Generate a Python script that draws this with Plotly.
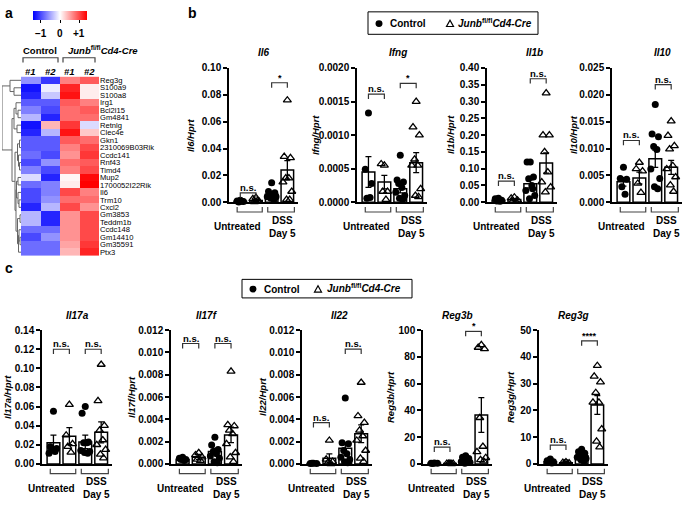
import plotly.graph_objects as go

W, H = 685, 506
FONT = "Arial, Liberation Sans, Helvetica, sans-serif"

# ---------------- heatmap data (panel a) ----------------
genes = ["Reg3g", "S100a9", "S100a8", "Irg1", "Bcl2l15", "Gm4841", "Retnlg", "Clec4e",
         "Gkn1", "2310069B03Rik", "Ccdc141", "Rnf43", "Timd4", "Mup2", "1700052I22Rik",
         "Il6", "Trm10", "Cxcl2", "Gm3853", "Teddm1b", "Ccdc148", "Gm14410", "Gm35591", "Ptx3"]
ctrl1 = [-0.6, -1.3, -1.2, -0.9, -0.7, -0.4, -1.3, -1.2, -0.9, -0.9, -0.8, -1.0, -0.7, -0.2,
         -0.8, -1.0, -1.0, -1.2, -0.4, -0.4, -0.8, -1.0, -0.8, -0.8]
ctrl2 = [-1.1, -0.1, -0.3, -0.9, -1.0, -1.2, 0.4, -0.4, -0.9, -0.9, -1.0, -0.6, -1.0, -1.2,
         -0.7, -0.7, -0.6, -0.4, -1.2, -1.2, -0.8, -0.6, -0.8, -0.8]
junb1 = [0.7, 1.2, 1.3, 0.9, 0.8, 0.8, 1.1, 1.3, 0.9, 0.7, 0.6, 0.8, 0.7, 0.05,
         0.1, 1.0, 0.8, 1.0, 0.6, 0.6, 0.6, 0.6, 0.5, 0.4]
junb2 = [0.9, 0.1, 0.1, 0.7, 0.9, 0.8, -0.2, 0.3, 0.8, 1.0, 1.1, 0.9, 1.0, 1.35,
         1.4, 0.7, 0.8, 0.6, 1.0, 1.0, 1.0, 1.0, 1.1, 1.2]
col_labels = ["#1", "#2", "#1", "#2"]
cbar_ticks = [-1, 0, 1]
cbar_labels = ["\u22121", "0", "+1"]
# dendrogram merges: (child a, child b, merge height); new cluster ids start at 24
linkage = [
    (1, 2, 7), (0, 24, 11), (4, 5, 3), (3, 26, 5), (6, 7, 4), (27, 28, 7),
    (8, 9, 1.5), (11, 12, 1.5), (10, 31, 2.5), (30, 32, 3.5), (13, 14, 3),
    (16, 17, 2), (15, 35, 3), (34, 36, 4.5), (18, 19, 1), (21, 22, 1),
    (20, 39, 2), (40, 23, 2.5), (38, 41, 3.5), (37, 42, 5), (33, 43, 6),
    (29, 44, 9), (25, 45, 19),
]

# ---------------- bar chart data (panels b, c) ----------------
il6_means = [0.0008, 0.0012, 0.006, 0.024]
il6_sems = [0.0003, 0.0006, 0.0013, 0.007]
il6_u_ctrl = [0.0015, 0.0010, 0.0005, 0.0002, 0.0008]
il6_u_junb = [0.0035, 0.0025, 0.0005, 0.0002, 0.0010]
il6_dss_ctrl = [0.0145, 0.008, 0.007, 0.006, 0.005, 0.004, 0.004, 0.003, 0.002]
il6_dss_junb = [0.076, 0.034, 0.033, 0.018, 0.018, 0.015, 0.008, 0.002, 0.002]
il6_sig = ["n.s.", "*"]
il6_sig_y = [0.007, 0.089]

ifng_means = [0.00045, 0.0003, 0.0002, 0.00059]
ifng_sems = [0.00023, 0.0001, 0.00006, 0.00015]
ifng_u_ctrl = [0.00133, 0.00049, 0.00028, 0.00006, 0.00007]
ifng_u_junb = [0.00055, 0.00057, 0.00016, 0.00016, 0.00004]
ifng_dss_ctrl = [0.0007, 0.00033, 0.0003, 0.00028, 0.00022, 0.00015, 0.0001, 0.00006, 0.00004]
ifng_dss_junb = [0.0015, 0.00112, 0.001, 0.00064, 0.00055, 0.00055, 0.0002, 0.0001, 0.00008]
ifng_sig = ["n.s.", "*"]
ifng_sig_y = [0.00161, 0.00177]

il1b_means = [0.006, 0.008, 0.055, 0.117]
il1b_sems = [0.002, 0.003, 0.012, 0.03]
il1b_u_ctrl = [0.012, 0.010, 0.006, 0.004, 0.003]
il1b_u_junb = [0.015, 0.012, 0.006, 0.003, 0.002]
il1b_dss_ctrl = [0.12, 0.12, 0.075, 0.07, 0.05, 0.035, 0.02, 0.01, 0.04]
il1b_dss_junb = [0.325, 0.20, 0.20, 0.15, 0.09, 0.06, 0.045, 0.03]
il1b_sig = ["n.s.", "n.s."]
il1b_sig_y = [0.063, 0.368]

il10_means = [0.0038, 0.0045, 0.0081, 0.0065]
il10_sems = [0.0008, 0.0011, 0.0016, 0.0013]
il10_u_ctrl = [0.0065, 0.0044, 0.0043, 0.0029, 0.0015]
il10_u_junb = [0.0074, 0.0062, 0.0058, 0.0035, 0.0018]
il10_dss_ctrl = [0.0182, 0.0127, 0.0122, 0.0104, 0.0098, 0.0062, 0.0044, 0.0029, 0.0025]
il10_dss_junb = [0.0151, 0.0124, 0.0105, 0.0099, 0.0068, 0.0062, 0.0047, 0.0032, 0.002]
il10_sig = ["n.s.", "n.s."]
il10_sig_y = [0.0115, 0.0219]

il17a_means = [0.022, 0.029, 0.023, 0.033]
il17a_sems = [0.008, 0.009, 0.007, 0.011]
il17a_u_ctrl = [0.055, 0.018, 0.016, 0.015, 0.013, 0.011]
il17a_u_junb = [0.062, 0.030, 0.021, 0.018, 0.012]
il17a_dss_ctrl = [0.060, 0.053, 0.023, 0.022, 0.022, 0.014, 0.013, 0.012, 0.011]
il17a_dss_junb = [0.104, 0.066, 0.040, 0.035, 0.025, 0.020, 0.015, 0.010, 0.006]
il17a_sig = ["n.s.", "n.s."]
il17a_sig_y = [0.12, 0.12]

il17f_means = [0.0004, 0.0006, 0.0011, 0.0026]
il17f_sems = [0.0001, 0.0002, 0.0003, 0.0007]
il17f_u_ctrl = [0.0006, 0.0005, 0.0004, 0.0004, 0.0003]
il17f_u_junb = [0.0010, 0.0008, 0.0006, 0.0004, 0.0003]
il17f_dss_ctrl = [0.0024, 0.0017, 0.0013, 0.0011, 0.0009, 0.0007, 0.0005, 0.0002, 0.0001]
il17f_dss_junb = [0.0083, 0.0035, 0.0034, 0.0030, 0.0027, 0.0018, 0.0010, 0.0006, 0.0002]
il17f_sig = ["n.s.", "n.s."]
il17f_sig_y = [0.0108, 0.0108]

il22_means = [0.00003, 0.0005, 0.0014, 0.0027]
il22_sems = [0.00001, 0.0004, 0.0005, 0.0008]
il22_u_ctrl = [0.00005, 0.00004, 0.00003, 0.00005]
il22_u_junb = [0.0021, 0.0004, 0.0002, 0.0001, 0.0000]
il22_dss_ctrl = [0.0059, 0.0019, 0.0018, 0.0012, 0.0009, 0.0006, 0.0004, 0.0002, 0.0001]
il22_dss_junb = [0.0073, 0.0043, 0.0037, 0.0030, 0.0025, 0.0021, 0.0012, 0.0005, 0.0002]
il22_sig = ["n.s.", "n.s."]
il22_sig_y = [0.0037, 0.0103]

reg3b_means = [0.4, 0.2, 2.5, 36.5]
reg3b_sems = [0.1, 0.05, 0.6, 13]
reg3b_u_ctrl = [0.6, 0.5, 0.4, 0.3]
reg3b_u_junb = [0.4, 0.3, 0.2, 0.2, 0.1]
reg3b_dss_ctrl = [6.0, 5.0, 4.0, 3.0, 2.0, 1.5, 1.0, 0.5]
reg3b_dss_junb = [89, 87, 86, 34.5, 13, 9, 4.6, 3, 2]
reg3b_sig = ["n.s.", "*"]
reg3b_sig_y = [12.5, 99]

reg3g_means = [0.8, 0.4, 3.0, 22.0]
reg3g_sems = [0.3, 0.1, 0.5, 3.5]
reg3g_u_ctrl = [1.8, 1.2, 0.8, 0.5, 0.3]
reg3g_u_junb = [0.7, 0.5, 0.3, 0.2, 0.1]
reg3g_dss_ctrl = [5.5, 4.5, 4.0, 3.5, 3.0, 2.5, 2.0, 1.5, 1.0]
reg3g_dss_junb = [36.7, 32.7, 30.6, 26.6, 23, 23, 13, 8.4, 6.3]
reg3g_sig = ["n.s.", "****"]
reg3g_sig_y = [7, 46]


def PX(x):
    return x / W


def PY(y):
    return 1 - y / H


panels = [
    dict(name="Il6", means=il6_means, sems=il6_sems,
         pts=[il6_u_ctrl, il6_u_junb, il6_dss_ctrl, il6_dss_junb], sig=il6_sig, sig_y=il6_sig_y,
         ymax=0.10, dtick=0.02, dec=2, box=(229, 298, 63.5, 201), tx=264, ty=48, lx=190),
    dict(name="Ifng", means=ifng_means, sems=ifng_sems,
         pts=[ifng_u_ctrl, ifng_u_junb, ifng_dss_ctrl, ifng_dss_junb], sig=ifng_sig, sig_y=ifng_sig_y,
         ymax=0.0020, dtick=0.0005, dec=4, box=(357, 427, 63.5, 201), tx=398, ty=48, lx=315),
    dict(name="Il1b", means=il1b_means, sems=il1b_sems,
         pts=[il1b_u_ctrl, il1b_u_junb, il1b_dss_ctrl, il1b_dss_junb], sig=il1b_sig, sig_y=il1b_sig_y,
         ymax=0.40, dtick=0.05, dec=2, box=(487, 557, 63.5, 201), tx=534, ty=48, lx=450),
    dict(name="Il10", means=il10_means, sems=il10_sems,
         pts=[il10_u_ctrl, il10_u_junb, il10_dss_ctrl, il10_dss_junb], sig=il10_sig, sig_y=il10_sig_y,
         ymax=0.025, dtick=0.005, dec=3, box=(612, 682, 63.5, 201), tx=662, ty=48, lx=573),
    dict(name="Il17a", means=il17a_means, sems=il17a_sems,
         pts=[il17a_u_ctrl, il17a_u_junb, il17a_dss_ctrl, il17a_dss_junb], sig=il17a_sig, sig_y=il17a_sig_y,
         ymax=0.14, dtick=0.02, dec=2, box=(42, 112, 332, 469), tx=77, ty=317, lx=7),
    dict(name="Il17f", means=il17f_means, sems=il17f_sems,
         pts=[il17f_u_ctrl, il17f_u_junb, il17f_dss_ctrl, il17f_dss_junb], sig=il17f_sig, sig_y=il17f_sig_y,
         ymax=0.012, dtick=0.002, dec=3, box=(171, 242, 332, 469), tx=207, ty=317, lx=131),
    dict(name="Il22", means=il22_means, sems=il22_sems,
         pts=[il22_u_ctrl, il22_u_junb, il22_dss_ctrl, il22_dss_junb], sig=il22_sig, sig_y=il22_sig_y,
         ymax=0.012, dtick=0.002, dec=3, box=(302, 372, 332, 469), tx=339, ty=317, lx=262),
    dict(name="Reg3b", means=reg3b_means, sems=reg3b_sems,
         pts=[reg3b_u_ctrl, reg3b_u_junb, reg3b_dss_ctrl, reg3b_dss_junb], sig=reg3b_sig, sig_y=reg3b_sig_y,
         ymax=100, dtick=20, dec=0, box=(423, 492, 332, 469), tx=457, ty=317, lx=390),
    dict(name="Reg3g", means=reg3g_means, sems=reg3g_sems,
         pts=[reg3g_u_ctrl, reg3g_u_junb, reg3g_dss_ctrl, reg3g_dss_junb], sig=reg3g_sig, sig_y=reg3g_sig_y,
         ymax=50, dtick=10, dec=0, box=(539, 608, 332, 469), tx=573, ty=317, lx=510),
]

fig = go.Figure()
layout = dict(width=W, height=H, margin=dict(l=0, r=0, t=0, b=0), autosize=False,
              paper_bgcolor="white", plot_bgcolor="white", showlegend=False,
              font=dict(family=FONT, color="black"))
annotations = []
shapes = []

# ---------------- panel a: heatmap ----------------
z = [[ctrl1[i], ctrl2[i], junb1[i], junb2[i]] for i in range(len(genes))]
HX0, HX1, HY0, HY1 = 21, 99, 72.3, 256
CB_X0, CB_X1, CB_Y = 33, 87, 11.5
ZMAX = 1.4
fig.add_trace(go.Heatmap(
    z=z, x=[0, 1, 2, 3], y=list(range(len(genes))), xaxis="x", yaxis="y",
    colorscale=[[0, "#0000ff"], [0.5, "#ffffff"], [1, "#ff0000"]], zmin=-ZMAX, zmax=ZMAX,
    colorbar=dict(orientation="h", x=PX((CB_X0 + CB_X1) / 2), xanchor="center", y=PY(CB_Y), yanchor="middle",
                  len=CB_X1 - CB_X0, lenmode="pixels", thickness=9, thicknessmode="pixels",
                  tickvals=cbar_ticks, showticklabels=False,
                  ticks="outside", ticklen=3, tickcolor="black", outlinewidth=0, xpad=0, ypad=0),
    hoverinfo="skip"))
for v, lab in zip(cbar_ticks, cbar_labels):
    xp = CB_X0 + (v + ZMAX) / (2 * ZMAX) * (CB_X1 - CB_X0)
    annotations.append(dict(text=f"<b>{lab}</b>", x=PX(xp), y=PY(28.5), xref="paper", yref="paper",
                            xanchor="center", yanchor="middle", showarrow=False, font=dict(size=10)))
layout["xaxis"] = dict(domain=[PX(HX0), PX(HX1)], range=[-0.5, 3.5], visible=False, anchor="y")
layout["yaxis"] = dict(domain=[PY(HY1), PY(HY0)], range=[len(genes) - 0.5, -0.5], anchor="x",
                       side="right", tickvals=list(range(len(genes))), ticktext=genes, ticks="",
                       showline=False, showgrid=False, zeroline=False,
                       tickfont=dict(size=7.6, family=FONT, color="black"))

# dendrogram
pos = {i: (float(i), 0.0) for i in range(len(genes))}
dx, dy = [], []
for k, (a, b, h) in enumerate(linkage):
    ya, ha = pos[a]
    yb, hb = pos[b]
    dx += [ha, h, h, hb, None]
    dy += [ya, ya, yb, yb, None]
    pos[len(genes) + k] = ((ya + yb) / 2, h)
fig.add_trace(go.Scatter(x=dx, y=dy, mode="lines", line=dict(color="#666666", width=1),
                         xaxis="x2", yaxis="y2", hoverinfo="skip"))
layout["xaxis2"] = dict(domain=[PX(2), PX(HX0)], range=[19, 0], visible=False, anchor="y2")
layout["yaxis2"] = dict(domain=[PY(HY1), PY(HY0)], range=[len(genes) - 0.5, -0.5], visible=False, anchor="x2")

annotations.append(dict(text="<b>a</b>", x=PX(3), y=PY(7), xref="paper", yref="paper",
                        xanchor="left", yanchor="middle", showarrow=False, font=dict(size=14)))
annotations.append(dict(text="<b>Control</b>", x=PX(40), y=PY(46), xref="paper", yref="paper",
                        xanchor="center", yanchor="middle", showarrow=False, font=dict(size=9.5)))
annotations.append(dict(text="<b><i>Junb</i><sup>fl/fl</sup><i>Cd4-Cre</i></b>", x=PX(66), y=PY(45),
                        xref="paper", yref="paper", xanchor="left", yanchor="middle",
                        showarrow=False, font=dict(size=9.5)))
for (bx0, bx1) in [(23, 58), (63, 95)]:
    shapes.append(dict(type="path", xref="paper", yref="paper",
                       path=f"M {PX(bx0)},{PY(58)} L {PX(bx0)},{PY(53)} L {PX(bx1)},{PY(53)} L {PX(bx1)},{PY(58)}",
                       line=dict(color="#444444", width=1.2)))
for i, lab in enumerate(col_labels):
    annotations.append(dict(text=f"<b><i>{lab}</i></b>", x=i, y=PY(67), xref="x", yref="paper",
                            xanchor="center", yanchor="middle", showarrow=False, font=dict(size=9.5)))

# ---------------- legends (drawn as shapes + text) ----------------
legend_boxes = [((368, 6, 538, 29), 379, 450, 388, 456, 18),
                ((242, 280, 412, 299), 253, 318, 262, 325, 290)]
for (bx0, by0, bx1, by1), cx, tx, ctx, jtx, ly in legend_boxes:
    shapes.append(dict(type="rect", xref="paper", yref="paper", x0=PX(bx0), x1=PX(bx1),
                       y0=PY(by1), y1=PY(by0), line=dict(color="black", width=1)))
    shapes.append(dict(type="circle", xref="paper", yref="paper", x0=PX(cx - 3.5), x1=PX(cx + 3.5),
                       y0=PY(ly + 3.5), y1=PY(ly - 3.5), fillcolor="black", line=dict(color="black", width=0)))
    shapes.append(dict(type="path", xref="paper", yref="paper",
                       path=f"M {PX(tx - 3.5)},{PY(ly + 3)} L {PX(tx + 3.5)},{PY(ly + 3)} L {PX(tx)},{PY(ly - 3.5)} Z",
                       line=dict(color="black", width=1.2)))
    annotations.append(dict(text="<b>Control</b>", x=PX(ctx), y=PY(ly), xref="paper", yref="paper",
                            xanchor="left", yanchor="middle", showarrow=False, font=dict(size=10)))
    annotations.append(dict(text="<b><i>Junb</i><sup>fl/fl</sup><i>Cd4-Cre</i></b>", x=PX(jtx), y=PY(ly - 1),
                            xref="paper", yref="paper", xanchor="left", yanchor="middle",
                            showarrow=False, font=dict(size=10)))

annotations.append(dict(text="<b>b</b>", x=PX(186), y=PY(7), xref="paper", yref="paper",
                        xanchor="left", yanchor="middle", showarrow=False, font=dict(size=14)))
annotations.append(dict(text="<b>c</b>", x=PX(3), y=PY(268), xref="paper", yref="paper",
                        xanchor="left", yanchor="middle", showarrow=False, font=dict(size=14)))

# ---------------- bar panels ----------------
offsets = [0.0, -0.2, 0.2, -0.1, 0.1, -0.28, 0.28, -0.05, 0.15, -0.15]
XR = [-0.72, 3.68]
for i, p in enumerate(panels):
    n = i + 3
    xa, ya = f"x{n}", f"y{n}"
    x0, x1, y0, y1 = p["box"]
    hpx = y1 - y0
    layout[f"xaxis{n}"] = dict(domain=[PX(x0), PX(x1)], range=XR, anchor=ya, showline=True,
                               linecolor="black", linewidth=1.5, ticks="", showticklabels=False,
                               showgrid=False, zeroline=False)
    nt = int(round(p["ymax"] / p["dtick"]))
    tv = [round(p["dtick"] * k, 6) for k in range(nt + 1)]
    tt = [f"<b>{v:.{p['dec']}f}</b>" for v in tv]
    layout[f"yaxis{n}"] = dict(domain=[PY(y1), PY(y0)], range=[0, p["ymax"]], anchor=xa,
                               showline=True, linecolor="black", linewidth=1.5, ticks="outside",
                               ticklen=4, tickwidth=1.5, tickcolor="black", tickvals=tv, ticktext=tt,
                               showgrid=False, zeroline=False,
                               tickfont=dict(size=10, family=FONT, color="black"))
    fig.add_trace(go.Bar(x=[0, 1, 2, 3], y=p["means"], width=0.8, xaxis=xa, yaxis=ya,
                         marker=dict(color="white", line=dict(color="black", width=1.5)),
                         error_y=dict(type="data", array=p["sems"], color="black", thickness=1.3, width=3),
                         hoverinfo="skip"))
    for g, vals in enumerate(p["pts"]):
        xs = [g + offsets[j % len(offsets)] for j in range(len(vals))]
        if g % 2 == 0:
            mk = dict(symbol="circle", size=7, color="black")
        else:
            mk = dict(symbol="triangle-up-open", size=7, color="black", line=dict(width=1.3, color="black"))
        fig.add_trace(go.Scatter(x=xs, y=vals, mode="markers", marker=mk, xaxis=xa, yaxis=ya,
                                 cliponaxis=False, hoverinfo="skip"))
    annotations.append(dict(text=f"<b><i>{p['name']}</i></b>", x=PX(p["tx"]), y=PY(p["ty"]),
                            xref="paper", yref="paper", xanchor="center", yanchor="middle",
                            showarrow=False, font=dict(size=10)))
    annotations.append(dict(text=f"<b><i>{p['name']}/Hprt</i></b>", x=PX(p["lx"]), y=PY((y0 + y1) / 2),
                            xref="paper", yref="paper", xanchor="center", yanchor="middle",
                            textangle=-90, showarrow=False, font=dict(size=9.5)))
    tl = 5 / hpx * p["ymax"]
    for (a, b), s, sy in zip([(0, 1), (2, 3)], p["sig"], p["sig_y"]):
        shapes.append(dict(type="path", xref=xa, yref=ya,
                           path=f"M {a},{sy - tl} L {a},{sy} L {b},{sy} L {b},{sy - tl}",
                           line=dict(color="#333333", width=1.2)))
        annotations.append(dict(text=f"<b>{s}</b>", x=(a + b) / 2, y=sy, xref=xa, yref=ya,
                                xanchor="center", yanchor="bottom", yshift=-2, showarrow=False,
                                font=dict(size=9.5 if s == "n.s." else 9)))
    for (a, b) in [(-0.2, 1.4), (1.75, 3.45)]:
        shapes.append(dict(type="path", xref=xa, yref=f"{ya} domain",
                           path=f"M {a},{-5 / hpx} L {a},{-10 / hpx} L {b},{-10 / hpx} L {b},{-5 / hpx}",
                           line=dict(color="#444444", width=1.2)))
    annotations.append(dict(text="<b>Untreated</b>", x=1.45, y=-25 / hpx, xref=xa, yref=f"{ya} domain",
                            xanchor="right", yanchor="middle", showarrow=False, font=dict(size=10)))
    annotations.append(dict(text="<b>DSS<br>Day 5</b>", x=2.7, y=-25 / hpx, xref=xa, yref=f"{ya} domain",
                            xanchor="center", yanchor="middle", showarrow=False, font=dict(size=10)))

layout["annotations"] = annotations
layout["shapes"] = shapes
fig.update_layout(**layout)
fig.write_html("out.html", config={"displayModeBar": False},
               post_script="document.body.style.margin='0px';")
